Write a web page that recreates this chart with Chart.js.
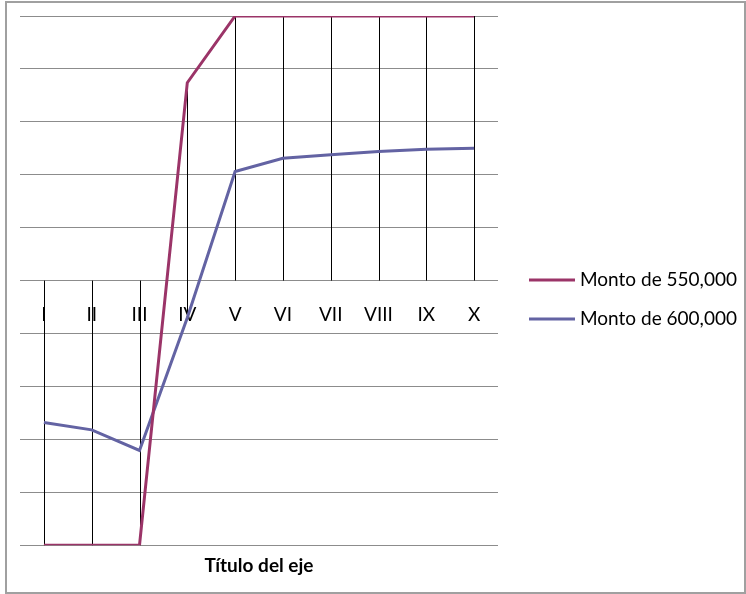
<!DOCTYPE html>
<html>
<head>
<meta charset="utf-8">
<script src="https://cdn.jsdelivr.net/npm/chart.js@4/dist/chart.umd.min.js"></script>
<style>
  html, body { margin: 0; padding: 0; background: #fff; }
  #wrap { position: relative; width: 746px; height: 594px; }
  #frame { position: absolute; left: 5px; top: 1px; width: 737px; height: 589px; border: 2px solid #a0a0a0; pointer-events: none; }
</style>
</head>
<body>
<div id="wrap">
  <canvas id="c" width="746" height="594"></canvas>
  <div id="frame"></div>
</div>
<script>
const categories = ['I', 'II', 'III', 'IV', 'V', 'VI', 'VII', 'VIII', 'IX', 'X'];
const series550 = [-5, -5, -5, 3.74, 5, 5, 5, 5, 5, 5];
const series600 = [-2.68, -2.82, -3.21, -0.70, 2.06, 2.31, 2.38, 2.44, 2.48, 2.50];
const seriesNames = ['Monto de 550,000', 'Monto de 600,000'];
const seriesColors = ['#9b3468', '#6363a3'];
const axisTitle = 'Título del eje';

const dropLines = {
  id: 'dropLines',
  beforeDatasetsDraw(chart) {
    const ctx = chart.ctx;
    const xs = chart.scales.x, ys = chart.scales.y;
    const zero = ys.getPixelForValue(0);
    ctx.save();
    ctx.strokeStyle = '#000';
    ctx.lineWidth = 1;
    categories.forEach((c, i) => {
      const vals = chart.data.datasets.map(d => ys.getPixelForValue(d.data[i]));
      const top = Math.min(zero, ...vals), bot = Math.max(zero, ...vals);
      const x = Math.round(xs.getPixelForValue(i)) + 0.5;
      ctx.beginPath();
      ctx.moveTo(x, top);
      ctx.lineTo(x, bot);
      ctx.stroke();
    });
    ctx.restore();
  }
};

const sideLegend = {
  id: 'sideLegend',
  afterDraw(chart) {
    const ctx = chart.ctx;
    const area = chart.chartArea;
    const x0 = area.right + 31;
    const yMid = 299.5, gap = 39;
    ctx.save();
    ctx.font = '19px Lato';
    ctx.textBaseline = 'middle';
    chart.data.datasets.forEach((d, i) => {
      const y = yMid + (i - (chart.data.datasets.length - 1) / 2) * gap;
      ctx.strokeStyle = d.borderColor;
      ctx.lineWidth = 3;
      ctx.beginPath();
      ctx.moveTo(x0, y);
      ctx.lineTo(x0 + 46, y);
      ctx.stroke();
      ctx.fillStyle = '#000';
      ctx.fillText(d.label, x0 + 51, y);
    });
    ctx.restore();
  }
};

new Chart(document.getElementById('c'), {
  type: 'line',
  data: {
    labels: categories,
    datasets: [
      { label: seriesNames[0], data: series550, borderColor: seriesColors[0], backgroundColor: seriesColors[0], borderWidth: 3, pointRadius: 0, tension: 0 },
      { label: seriesNames[1], data: series600, borderColor: seriesColors[1], backgroundColor: seriesColors[1], borderWidth: 3, pointRadius: 0, tension: 0 }
    ]
  },
  options: {
    responsive: false,
    animation: false,
    layout: { padding: { left: 20, top: 16, right: 248, bottom: 0 } },
    scales: {
      x: {
        position: { y: 0 },
        offset: true,
        grid: { display: false, drawTicks: false },
        border: { display: false },
        ticks: { color: '#000', padding: 23, maxRotation: 0, font: { family: 'Lato', size: 19 } }
      },
      y: {
        min: -5, max: 5,
        ticks: { display: false, stepSize: 1 },
        grid: { color: '#8c8c8c', lineWidth: 1, drawTicks: false },
        border: { display: false }
      }
    },
    plugins: {
      legend: { display: false },
      title: {
        display: true, text: axisTitle, position: 'bottom', fullSize: false,
        color: '#000', font: { family: 'Lato', size: 19, weight: 'bold' },
        padding: { top: 9, bottom: 17 }
      },
      tooltip: { enabled: false }
    }
  },
  plugins: [dropLines, sideLegend]
});
</script>
</body>
</html>
